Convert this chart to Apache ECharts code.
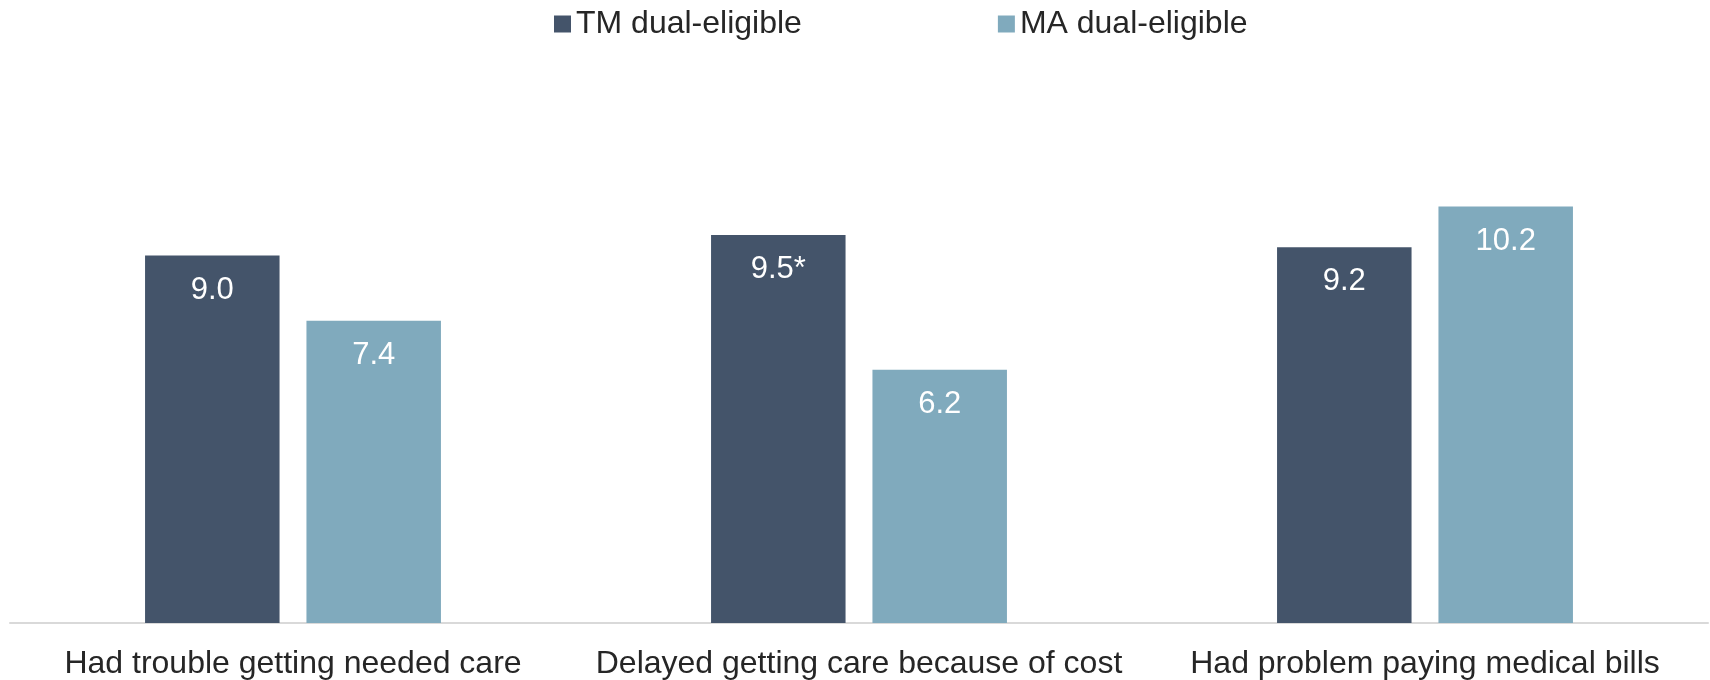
<!DOCTYPE html>
<html>
<head>
<meta charset="utf-8">
<title>Dual-eligible beneficiaries: access and cost problems</title>
<script src="https://cdn.jsdelivr.net/npm/echarts@6/dist/echarts.min.js"></script>
<style>
  html, body { margin: 0; padding: 0; background: #ffffff; }
  #chart { width: 1710px; height: 680px; }
</style>
</head>
<body>
<div id="chart"></div>
<script>
// Share of beneficiaries reporting each problem (percent)
const categories = [
  'Had trouble getting needed care',
  'Delayed getting care because of cost',
  'Had problem paying medical bills'
];
const seriesNames = ['TM dual-eligible', 'MA dual-eligible'];
const tmValues = [9.0, 9.5, 9.2];
const maValues = [7.4, 6.2, 10.2];
// Significance markers appended to the value labels
const tmMarks = ['', '*', ''];
const maMarks = ['', '', ''];

const colors = ['#44546a', '#80aabd'];
const font = '"Liberation Sans", Arial, sans-serif';

function valueLabel(marks) {
  return {
    show: true,
    position: 'insideTop',
    distance: 19,
    color: '#ffffff',
    fontFamily: font,
    fontSize: 31,
    formatter: p => p.value.toFixed(1) + marks[p.dataIndex]
  };
}

const chart = echarts.init(document.getElementById('chart'), null, { renderer: 'canvas' });
chart.setOption({
  animation: false,
  backgroundColor: '#ffffff',
  color: colors,
  legend: {
    data: seriesNames,
    left: 554,
    top: 8,
    padding: 0,
    icon: 'rect',
    itemWidth: 17,
    itemHeight: 17,
    itemGap: 196,
    textStyle: { fontFamily: font, fontSize: 32, color: '#262626' }
  },
  grid: { left: 10, right: 2, top: 133, bottom: 57, containLabel: false },
  xAxis: {
    type: 'category',
    data: categories,
    axisLine: { show: true, lineStyle: { color: '#d9d9d9', width: 2 } },
    axisTick: { show: false },
    axisLabel: {
      margin: 25,
      fontFamily: font,
      fontSize: 32,
      color: '#262626',
      interval: 0
    }
  },
  yAxis: {
    type: 'value',
    min: 0,
    max: 12,
    show: false,
    splitLine: { show: false }
  },
  series: [
    {
      name: seriesNames[0],
      type: 'bar',
      data: tmValues,
      barWidth: 134.5,
      barGap: '20%',
      itemStyle: { color: colors[0] },
      label: valueLabel(tmMarks)
    },
    {
      name: seriesNames[1],
      type: 'bar',
      data: maValues,
      barWidth: 134.5,
      barGap: '20%',
      itemStyle: { color: colors[1] },
      label: valueLabel(maMarks)
    }
  ]
});
</script>
</body>
</html>
